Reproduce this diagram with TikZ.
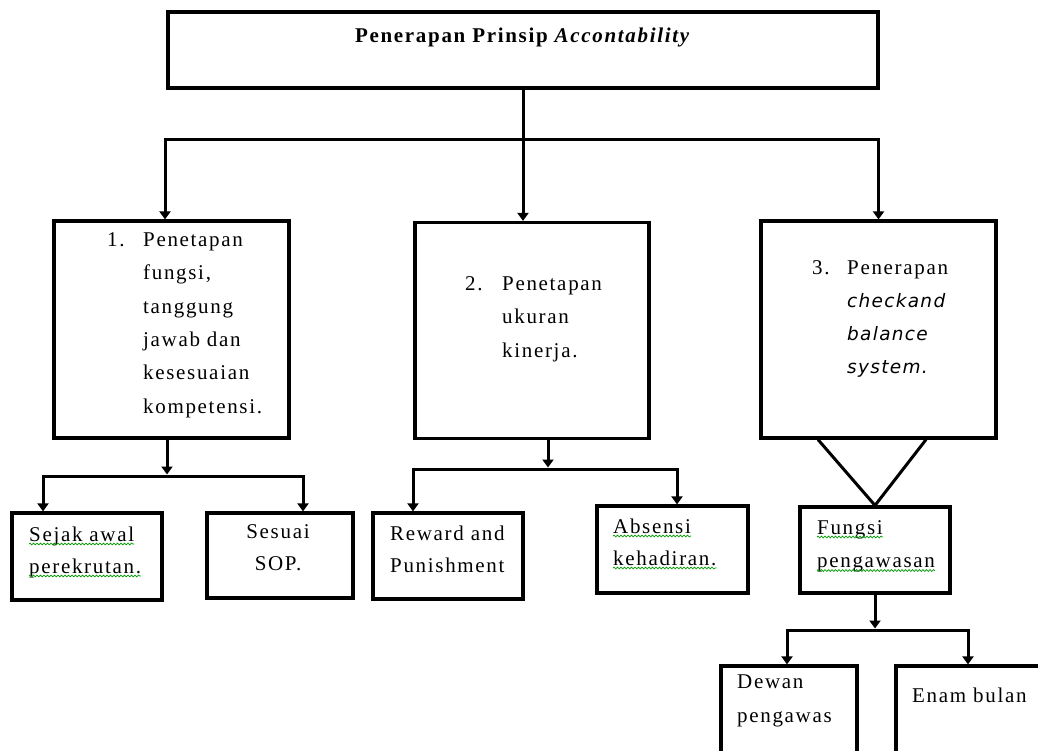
\documentclass[tikz,border=0pt]{standalone}
\usepackage{fontspec}
\setmainfont[LetterSpace=8]{Liberation Serif}
\newfontfamily\cbfont[LetterSpace=7]{DejaVu Sans}
\usetikzlibrary{arrows.meta,decorations.pathmorphing}
\tikzset{
 x=1pt,y=-1pt,
 box/.style={draw,line width=3.2pt,inner sep=0pt,rectangle},
 conn/.style={line width=3pt,line join=miter},
 arr/.style={conn,-{Triangle[width=11pt,length=8pt]}},
 txt/.style={inner sep=0pt,font=\fontsize{21}{33.3}\selectfont,align=left},
 sq/.style={draw=green!60!black,line width=0.7pt,decorate,decoration={snake,amplitude=0.9pt,segment length=3.5pt}},
}
\begin{document}
\begin{tikzpicture}
\useasboundingbox (0,0) rectangle (1038,751);
\clip (0,0) rectangle (1038,751);
% top
\node[box,minimum width=710pt,minimum height=76pt] (top) at (523,50) {};
\node[txt,anchor=base,font=\fontsize{21}{24}\selectfont\bfseries] (title) at (523,43) {Penerapan Prinsip \textit{Accontability}};
% level 2
\node[box,minimum width=235pt,minimum height=217pt] (b1) at (171.5,329.5) {};
\node[box,minimum width=234pt,minimum height=216pt] (b2) at (532,330.5) {};
\node[box,minimum width=235pt,minimum height=217pt] (b3) at (878.5,329.5) {};
\node[txt,anchor=base west] (n1) at (107,246.5) {1.};
\node[txt,anchor=base west] (t1) at (143,413) {Penetapan\\fungsi,\\tanggung\\jawab dan\\kesesuaian\\kompetensi.};
\node[txt,anchor=base west] (n2) at (465,290.5) {2.};
\node[txt,anchor=base west] (t2) at (502,357.1) {Penetapan\\ukuran\\kinerja.};
\node[txt,anchor=base west] (n3) at (812,274) {3.};
\node[txt,anchor=base west] (t3) at (847,373.9) {Penerapan\\{\cbfont\itshape\fontsize{18.5}{33.3}\selectfont checkand}\\{\cbfont\itshape\fontsize{18.5}{33.3}\selectfont balance}\\{\cbfont\itshape\fontsize{18.5}{33.3}\selectfont system.}};
% level 3
\node[box,minimum width=150pt,minimum height=87pt] (c1) at (87,556.5) {};
\node[box,minimum width=146pt,minimum height=85pt] (c2) at (280,555.5) {};
\node[box,minimum width=150pt,minimum height=86pt] (c3) at (448,556) {};
\node[box,minimum width=151pt,minimum height=87pt] (c4) at (672.5,549.5) {};
\node[box,minimum width=150pt,minimum height=86pt] (f) at (875,550) {};
\node[box,minimum width=136pt,minimum height=94pt] (d1) at (789,713) {};
\node[box,minimum width=154pt,minimum height=94pt] (d2) at (973,713) {};
\node[txt,anchor=base west] (s1) at (29,541) {Sejak awal};
\node[txt,anchor=base west] (s2) at (29,573) {perekrutan.};
\node[txt,anchor=base] (e1) at (278,538) {Sesuai};
\node[txt,anchor=base] (e2) at (278,570) {SOP.};
\node[txt,anchor=base west] (r1) at (390,540) {Reward and};
\node[txt,anchor=base west] (r2) at (390,572) {Punishment};
\node[txt,anchor=base west] (a1) at (613,533) {Absensi};
\node[txt,anchor=base west] (a2) at (613,565) {kehadiran.};
\node[txt,anchor=base west] (g1) at (817,534) {Fungsi};
\node[txt,anchor=base west] (g2) at (817,567.5) {pengawasan};
\node[txt,anchor=base west] (w1) at (737,688) {Dewan};
\node[txt,anchor=base west] (w2) at (737,722) {pengawas};
\node[txt,anchor=base west] (m1) at (912,702) {Enam bulan};
\foreach \n in {s1,s2,a1,a2,g1,g2}{
  \draw[sq] ([yshift=-3pt]\n.base west) -- ([yshift=-3pt]\n.base east);
}
% connectors
\coordinate (j0) at (523,140);
\draw[conn] (top.south) -- (j0);
\draw[arr] (j0) -| ([xshift=-6.5pt]b1.north);
\draw[arr] (j0) -- ([xshift=-9pt]b2.north);
\draw[arr] (j0) -| (b3.north);
\coordinate (j1) at (167,476);
\draw[arr,shorten >=1.5pt] ([xshift=-4.5pt]b1.south) -- (j1);
\draw[arr] (j1) -| ([xshift=-44pt]c1.north);
\draw[arr] (j1) -| ([xshift=23pt]c2.north);
\coordinate (j2) at (548,469);
\draw[arr,shorten >=1.5pt] ([xshift=16pt]b2.south) -- (j2);
\draw[arr] (j2) -| ([xshift=-35pt]c3.north);
\draw[arr] (j2) -| ([xshift=4.5pt]c4.north);
\draw[conn] ([xshift=-60.5pt]b3.south) -- (f.north);
\draw[conn] ([xshift=47.5pt]b3.south) -- (f.north);
\coordinate (j3) at (875,630);
\draw[arr,shorten >=1.5pt] (f.south) -- (j3);
\draw[arr] (j3) -| ([xshift=-2pt]d1.north);
\draw[arr] (j3) -| ([xshift=-5pt]d2.north);
\end{tikzpicture}
\end{document}
